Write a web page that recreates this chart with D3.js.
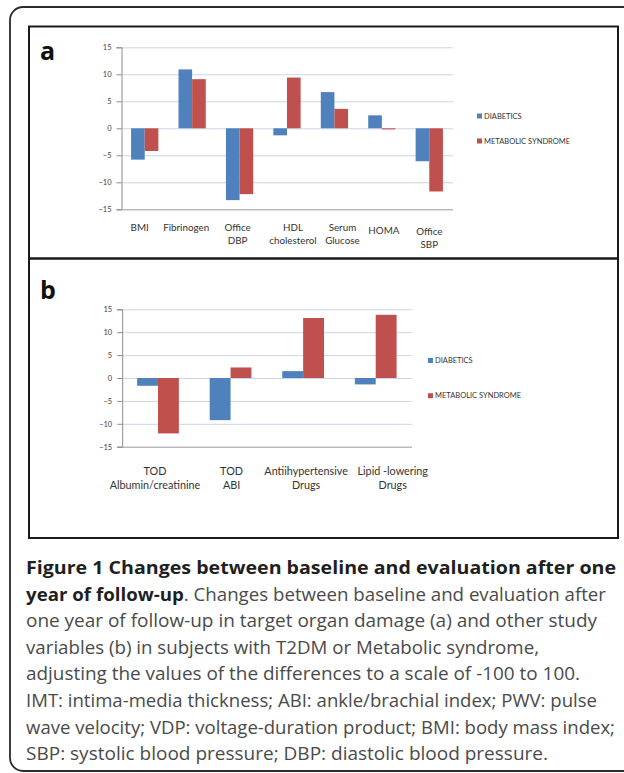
<!DOCTYPE html>
<html>
<head>
<meta charset="utf-8">
<script src="https://cdn.jsdelivr.net/npm/d3@7"></script>
<style>
  html, body { margin: 0; padding: 0; background: #fff; }
  svg { display: block; }
</style>
</head>
<body>
<svg id="fig" width="624" height="773"></svg>
<script>
// ---------- data ----------
const seriesNames = ["DIABETICS", "METABOLIC SYNDROME"];
const seriesColors = ["#4F81BD", "#C0504D"];

const categoriesA = ["BMI", "Fibrinogen", "Office\nDBP", "HDL\ncholesterol", "Serum\nGlucose", "HOMA", "Office\nSBP"];
const diabeticsA  = [-5.8, 10.9, -13.3, -1.3, 6.7, 2.4, -6.1];
const metabolicA  = [-4.2, 9.1, -12.2, 9.4, 3.6, -0.2, -11.7];

const categoriesB = ["TOD\nAlbumin/creatinine", "TOD\nABI", "Antiihypertensive\nDrugs", "Lipid -lowering\nDrugs"];
const diabeticsB  = [-1.7, -9.2, 1.5, -1.4];
const metabolicB  = [-12.1, 2.3, 13.1, 13.8];

const yTicks = [-15, -10, -5, 0, 5, 10, 15];
const yDomain = [-15, 15];

const captionBold1 = "Figure 1 Changes between baseline and evaluation after one";
const captionBold2 = "year of follow-up";
const captionLines = [
  ". Changes between baseline and evaluation after",
  "one year of follow-up in target organ damage (a) and other study",
  "variables (b) in subjects with T2DM or Metabolic syndrome,",
  "adjusting the values of the differences to a scale of -100 to 100.",
  "IMT: intima-media thickness; ABI: ankle/brachial index; PWV: pulse",
  "wave velocity; VDP: voltage-duration product; BMI: body mass index;",
  "SBP: systolic blood pressure; DBP: diastolic blood pressure."
];

// ---------- drawing ----------
const svg = d3.select("#fig");
svg.append("rect").attr("width", 624).attr("height", 773).attr("fill", "#fff");

// outer rounded frame
svg.append("rect")
  .attr("x", 10).attr("y", 7).attr("width", 660).attr("height", 764)
  .attr("rx", 13).attr("ry", 13)
  .attr("fill", "none").attr("stroke", "#2b2b2b").attr("stroke-width", 1.8);

// panel boxes
svg.append("rect").attr("x", 29).attr("y", 26.5).attr("width", 589).attr("height", 232)
  .attr("fill", "none").attr("stroke", "#1a1a1a").attr("stroke-width", 2);
svg.append("rect").attr("x", 29).attr("y", 258.5).attr("width", 589).attr("height", 279.5)
  .attr("fill", "none").attr("stroke", "#1a1a1a").attr("stroke-width", 2);

const chartFont = "Lato, 'Open Sans', sans-serif";

function drawPanel(cfg) {
  const g = svg.append("g");
  const y = d3.scaleLinear().domain(yDomain).range([cfg.yBottom, cfg.yTop]);
  const x0 = d3.scaleBand().domain(d3.range(cfg.cats.length)).range([cfg.xLeft, cfg.xRight]).padding(0);
  const groupW = x0.bandwidth() * 0.575;
  const x1 = d3.scaleBand().domain(d3.range(seriesNames.length)).range([0, groupW]).padding(0);

  // gridlines
  g.append("g").selectAll("line").data(yTicks.filter(t => t !== yDomain[0])).join("line")
    .attr("x1", cfg.xLeft).attr("x2", cfg.xRight)
    .attr("y1", d => y(d) + 0.5).attr("y2", d => y(d) + 0.5)
    .attr("stroke", "#C9D5E8").attr("stroke-width", 1);

  // bars
  const series = [cfg.d, cfg.m];
  series.forEach((vals, si) => {
    g.append("g").selectAll("rect").data(vals).join("rect")
      .attr("x", (v, i) => x0(i) + (x0.bandwidth() - groupW) / 2 + x1(si))
      .attr("width", x1.bandwidth())
      .attr("y", v => y(Math.max(0, v)))
      .attr("height", v => Math.abs(y(v) - y(0)))
      .attr("fill", seriesColors[si]);
  });

  // y axis
  const axis = d3.axisLeft(y).tickValues(yTicks).tickSize(5).tickPadding(5).tickFormat(d3.format("d"));
  const ag = g.append("g").attr("transform", `translate(${cfg.xLeft + 0.5},0)`).call(axis);
  ag.select(".domain").attr("stroke", "#8c8c8c");
  ag.selectAll(".tick line").attr("stroke", "#8c8c8c");
  ag.selectAll(".tick text").attr("fill", "#404040")
    .style("font-family", chartFont).style("font-size", cfg.tickSize + "px");

  // bottom axis line (at -15)
  g.append("line").attr("x1", cfg.xLeft).attr("x2", cfg.xRight)
    .attr("y1", y(yDomain[0]) + 0.5).attr("y2", y(yDomain[0]) + 0.5)
    .attr("stroke", "#9a9a9a");

  // category labels
  cfg.cats.forEach((c, i) => {
    const lines = c.split("\n");
    const cx = x0(i) + x0.bandwidth() / 2 + (cfg.labelNudge[i] || 0);
    const t = g.append("text")
      .attr("x", cx)
      .attr("y", cfg.labelY + (cfg.labelDy[i] || 0))
      .attr("text-anchor", "middle")
      .attr("fill", "#333")
      .style("font-family", chartFont).style("font-size", cfg.labelSize + "px");
    lines.forEach((ln, k) => {
      t.append("tspan").attr("x", cx).attr("dy", k === 0 ? 0 : cfg.labelLine).text(ln);
    });
  });

  // legend
  seriesNames.forEach((s, si) => {
    const ly = cfg.legendY[si];
    g.append("rect").attr("x", cfg.legendX).attr("y", ly - 2.5).attr("width", 5).attr("height", 5)
      .attr("fill", seriesColors[si]);
    g.append("text").attr("x", cfg.legendX + 7).attr("y", ly + 2.6)
      .attr("fill", "#333")
      .style("font-family", chartFont).style("font-size", cfg.legendSize + "px")
      .text(s);
  });

  // panel letter
  g.append("text").attr("x", cfg.letterX).attr("y", cfg.letterY)
    .attr("fill", "#111").style("font-family", "'Open Sans', 'DejaVu Sans', sans-serif")
    .style("font-weight", "bold").style("font-size", "25px").text(cfg.letter);
}

drawPanel({
  cats: categoriesA, d: diabeticsA, m: metabolicA,
  xLeft: 121, xRight: 453, yTop: 47.3, yBottom: 209.3,
  tickSize: 7.5, labelSize: 9.8, labelY: 230.5, labelLine: 13,
  labelNudge: [-5, -6, -2, 6, 8, 2, 0], labelDy: [0, 0, 0, 0, 0, 3, 4],
  legendX: 477, legendY: [116, 141], legendSize: 7.5,
  letter: "a", letterX: 40, letterY: 60
});

drawPanel({
  cats: categoriesB, d: diabeticsB, m: metabolicB,
  xLeft: 121.7, xRight: 412, yTop: 309.3, yBottom: 446.7,
  tickSize: 7.5, labelSize: 10.8, labelY: 475, labelLine: 14,
  labelNudge: [-3, 1, 3, 17], labelDy: [0, 0, 0, 0],
  legendX: 428, legendY: [360.5, 395.7], legendSize: 7.5,
  letter: "b", letterX: 40, letterY: 299
});

// ---------- caption ----------
const capX = 26;
const capY0 = 574, capStep = 26.6;
const capWidths = [590, 580, 571, 513, 554, 571, 589, 522];
const capFont = "'Open Sans', 'Noto Sans', sans-serif";
const cap = svg.append("g").style("font-family", capFont).style("font-size", "18.5px");

const l1 = cap.append("text").attr("x", capX).attr("y", capY0)
  .attr("fill", "#1f1f1f").style("font-weight", "bold").text(captionBold1);
const l2 = cap.append("text").attr("x", capX).attr("y", capY0 + capStep).attr("fill", "#4a4a4a");
l2.append("tspan").style("font-weight", "bold").attr("fill", "#1f1f1f").text(captionBold2);
l2.append("tspan").text(captionLines[0]);
const others = captionLines.slice(1).map((ln, i) =>
  cap.append("text").attr("x", capX).attr("y", capY0 + capStep * (i + 2)).attr("fill", "#4a4a4a").text(ln));

[l1, l2, ...others].forEach((t, i) => {
  t.attr("textLength", capWidths[i]).attr("lengthAdjust", "spacingAndGlyphs");
});
</script>
</body>
</html>
